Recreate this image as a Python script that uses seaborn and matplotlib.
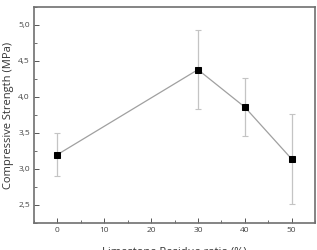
import matplotlib
matplotlib.use("Agg")
import matplotlib.pyplot as plt
import matplotlib.ticker as mticker
import pandas as pd
import seaborn as sns

# data
ratio = [0, 30, 40, 50]
strength = [3.20, 4.38, 3.86, 3.14]
err = [0.30, 0.55, 0.40, 0.62]
x_ticks = [0, 10, 20, 30, 40, 50]
y_ticks = [2.5, 3.0, 3.5, 4.0, 4.5, 5.0]

df = pd.DataFrame({"ratio": ratio, "strength": strength, "err": err})

sns.set_theme(style="white")
plt.rcParams["font.family"] = ["Open Sans", "DejaVu Sans"]

fig = plt.figure(figsize=(3.17, 2.5), dpi=100)
ax = fig.add_axes([34 / 317, 1 - 223 / 250, 281 / 317, 216 / 250])

ax.errorbar(df["ratio"], df["strength"], yerr=df["err"], fmt="none",
            ecolor="#c4c4c4", elinewidth=0.9, capsize=2, capthick=0.8, zorder=1)
sns.lineplot(data=df, x="ratio", y="strength", ax=ax, color="#a0a0a0",
             linewidth=0.9, marker="s", markersize=5, markerfacecolor="black",
             markeredgecolor="black", zorder=2)

ax.set_xlim(-5, 55)
ax.set_ylim(2.25, 5.25)
ax.set_xticks(x_ticks)
ax.set_yticks(y_ticks)
ax.xaxis.set_minor_locator(mticker.MultipleLocator(5))
ax.yaxis.set_minor_locator(mticker.MultipleLocator(0.25))
ax.yaxis.set_major_formatter(mticker.FuncFormatter(lambda v, p: f"{v:.1f}".replace(".", ",")))

ax.tick_params(which="major", direction="in", length=3.5, width=0.7,
               color="#555555", labelsize=6, labelcolor="#444444", pad=3)
ax.tick_params(which="minor", direction="in", length=2, width=0.6, color="#555555")
ax.tick_params(bottom=True, left=True, which="both")

for s in ax.spines.values():
    s.set_color("#707070")
    s.set_linewidth(1.2)

ax.set_xlabel("Limestone Residue ratio (%)", fontsize=8, color="#333333", labelpad=9)
ax.set_ylabel("Compressive Strength (MPa)", fontsize=8, color="#333333", labelpad=3)

fig.savefig("out.png", dpi=100)
